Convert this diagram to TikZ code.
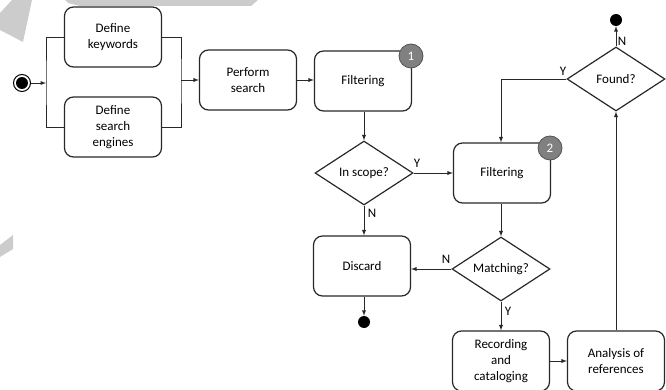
\documentclass[tikz,border=0pt]{standalone}
\usepackage{fontspec}
\setmainfont{Carlito}
\usepackage{xcolor}
\usetikzlibrary{arrows}
\usetikzlibrary{shapes.geometric}
\definecolor{myline}{RGB}{40, 40, 40}
\definecolor{mybadge}{RGB}{128, 128, 128}
\definecolor{mymark}{RGB}{204, 204, 204}

\begin{document}
\begin{tikzpicture}[x=1pt,y=-1pt,
  font=\fontsize{13}{16}\selectfont,
  box/.style={draw=myline,line width=1.2pt,rounded corners=9pt,
    minimum width=97pt,minimum height=60pt,align=center,inner sep=2pt},
  decision/.style={draw=myline,line width=1.2pt,diamond,aspect=1.53,
    minimum width=98pt,minimum height=64pt,inner sep=0pt},
  badge/.style={circle,draw=myline!80,line width=0.8pt,fill=mybadge,
    minimum size=24pt,inner sep=0pt,text=white},
  enddot/.style={circle,fill=black,minimum size=12pt,inner sep=0pt},
  lbl/.style={inner sep=0pt},
  flow/.style={line width=0.9pt,draw=myline}]
\useasboundingbox (0,0) rectangle (666,390);

%watermark pieces
\fill[mymark] (0,13) -- (12,0) -- (32,0) -- (23,42) -- (0,30) -- cycle;
\fill[mymark] (65,0) -- (258,0) -- (251,6) -- (80,6) -- (68,3) -- cycle;
\fill[mymark] (0,245) -- (13,235) -- (13,249) -- (0,257) -- cycle;

%start
\node[circle,draw=black,line width=1pt,minimum size=17pt,inner sep=0pt] (start) at (22,83) {};
\fill (start) circle (6pt);
\coordinate (forkin) at (46,83);
\coordinate (joinout) at (181,80);

%activities
\node[box] (kw) at (113,37) {Define\\keywords};
\node[box] (se) at (113,127) {Define\\search\\engines};
\node[box] (search) at (248,80) {Perform\\search};
\node[box] (filt1) at (363,81) {Filtering};
\node[box] (filt2) at (502,173) {Filtering};
\node[box] (discard) at (362,266) {Discard};
\node[box] (rec) at (501,361) {Recording\\and\\cataloging};
\node[box] (ana) at (616,361) {Analysis of\\references};

%badges
\node[badge] (b1) at (411,56) {1};
\node[badge] (b2) at (550,148) {2};

%decisions
\node[decision] (scope) at (364,173) {In scope?};
\node[decision] (match) at (501,269) {Matching?};
\node[decision] (found) at (616,79) {Found?};

%ends
\node[enddot] (end1) at (364,322) {};
\node[enddot] (end2) at (616,20) {};

%fork and join
\draw[flow,-latex] (start) -- (forkin);
\draw[flow] (kw.west) -| (forkin) |- (se.west);
\draw[flow] (kw.east) -| (joinout) |- (se.east);
\draw[flow,-latex] (joinout) -- (search.west);
\draw[flow,-latex] (search.east) -- (search.east -| filt1.west);

%flow
\draw[flow,-latex] (filt1.south -| scope.north) -- (scope.north);
\draw[flow,-latex] (scope.east) -- (scope.east -| filt2.west);
\draw[flow,-latex] (scope.south) -- (scope.south |- discard.north);
\draw[flow,-latex] (discard.south -| end1) -- (end1);
\draw[flow,-latex] (filt2.south -| match.north) -- (match.north);
\draw[flow,-latex] (match.west) -- (match.west -| discard.east);
\draw[flow,-latex] (match.south) -- (match.south |- rec.north);
\draw[flow,-latex] (rec.east) -- (ana.west);
\draw[flow,-latex] (ana.north) -- (found.south);
\draw[flow,-latex] (found.west) -| (filt2.north -| match.north);
\draw[flow,-latex] (found.north) -- (end2);

%labels
\node[lbl] (yscope) at (417,163) {Y};
\node[lbl] (nscope) at (372,213) {N};
\node[lbl] (nmatch) at (446,259) {N};
\node[lbl] (ymatch) at (508,311) {Y};
\node[lbl] (yfound) at (563,71) {Y};
\node[lbl] (nfound) at (622,41) {N};

\end{tikzpicture}
\end{document}
